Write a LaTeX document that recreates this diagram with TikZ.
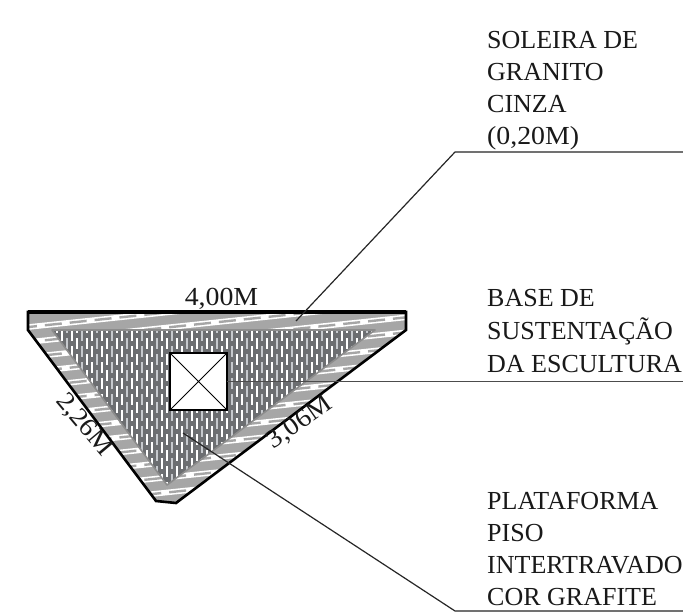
\documentclass[tikz,border=0pt]{standalone}
\usepackage{fontspec}
\usepackage{graphicx}
\setmainfont{Liberation Serif}
\newcommand{\widetxt}[1]{\scalebox{1.07}[1]{#1}}
\definecolor{bandgrey}{HTML}{A6A6A6}
\definecolor{innergrey}{HTML}{6C6E71}
\definecolor{tilegrey}{HTML}{C6C9CD}
\tikzset{
  lbl/.style={anchor=south west,inner sep=0pt,align=left,font=\fontsize{26}{32}\selectfont,text=black!90},
  dim/.style={inner sep=0pt,font=\fontsize{26}{30}\selectfont,text=black!90},
  leader/.style={draw=black!85,line width=1.2pt},
  outline/.style={draw=black,line width=2.6pt,line join=miter},
  stripe/.style={draw=white,line width=5.6pt},
  stripedash/.style={draw=bandgrey,line width=2.4pt,dash pattern=on 17pt off 8pt},
}
\begin{document}
\begin{tikzpicture}[x=1pt,y=-1pt]
\useasboundingbox (0,0) rectangle (683,615);
\fill[white] (0,0) rectangle (683,615);
% named points
\coordinate (o1) at (28,312);
\coordinate (o2) at (406,312);
\coordinate (o3) at (406,330);
\coordinate (o4) at (176,503);
\coordinate (o5) at (156,501);
\coordinate (o6) at (28,330);
\coordinate (i1) at (52,330);
\coordinate (i2) at (375,330);
\coordinate (i3) at (167,485);
% granite band with its hatch
\fill[bandgrey] (o1)--(o2)--(o3)--(o4)--(o5)--(o6)--cycle;
\begin{scope}
\clip (o1)--(o2)--(o3)--(o4)--(o5)--(o6)--cycle;
\foreach \c in {330,345,...,540}{
  \draw[stripe] (20,\c-2.1) -- (420,\c-44.1);
  \draw[stripedash] (20,\c-2.1) -- (420,\c-44.1);
}
\end{scope}
% paving triangle
\fill[innergrey] (i1)--(i2)--(i3)--cycle;
\begin{scope}
\clip (i1)--(i2)--(i3)--cycle;
\foreach \n in {0,1,...,66}{
  \pgfmathsetmacro{\xx}{52+5*\n}
  \pgfmathsetmacro{\off}{mod(\n,2)*8}
  \pgfmathtruncatemacro{\odd}{mod(\n,3)}
  \ifnum\odd=0\def\tc{tilegrey}\else\def\tc{white}\fi
  \draw[draw=\tc,line width=1.35pt,dash pattern=on 11pt off 5pt]
    (\xx,330-\off) -- (\xx,490);
}
\end{scope}
\draw[draw=black!45,line width=1.6pt,line join=round] (i1)--(i2)--(i3)--cycle;
% outline
\draw[outline] (o1)--(o2)--(o3)--(o4)--(o5)--(o6)--cycle;
\draw[draw=black,line width=3.4pt] (o1)--(o2);
% sculpture base
\node[draw=black,fill=white,line width=1.3pt,minimum size=57pt,inner sep=0pt,outer sep=0pt] (sq) at (198.5,381.5) {};
\draw[black,line width=0.9pt] (sq.north west)--(sq.south east) (sq.north east)--(sq.south west);
% labels
\node[lbl] (t1) at (487,150.5) {SOLEIRA DE\\GRANITO\\CINZA\\\widetxt{(0,20M)}};
\node[lbl,font=\fontsize{26}{33}\selectfont] (t2) at (487,372.5) {BASE DE\\SUSTENTAÇÃO\\DA ESCULTURA};
\node[lbl] (t3) at (487,605.5) {PLATAFORMA\\PISO\\INTERTRAVADO\\COR GRAFITE};
\node[dim,anchor=base] (d1) at (221.5,305) {\widetxt{4,00M}};
\node[dim,rotate=-50] (d2) at (84,425) {\widetxt{2,26M}};
\node[dim,rotate=35] (d3) at (300,423) {\widetxt{3,06M}};
% leaders
\coordinate (a1) at (296,321);
\coordinate (a2) at (455,152);
\coordinate (a3) at (683,152);
\coordinate (b2) at (683,381.5);
\coordinate (c1) at (183,433);
\coordinate (c2) at (455,611);
\coordinate (c3) at (683,611);
\draw[leader,line join=round] (a1)--(a2)--(a3);
\draw[leader,draw=black!70,line width=1.7pt] (sq.east |- b2) -- (b2);
\draw[leader,line join=round] (c1)--(c2)--(c3);
\end{tikzpicture}
\end{document}
